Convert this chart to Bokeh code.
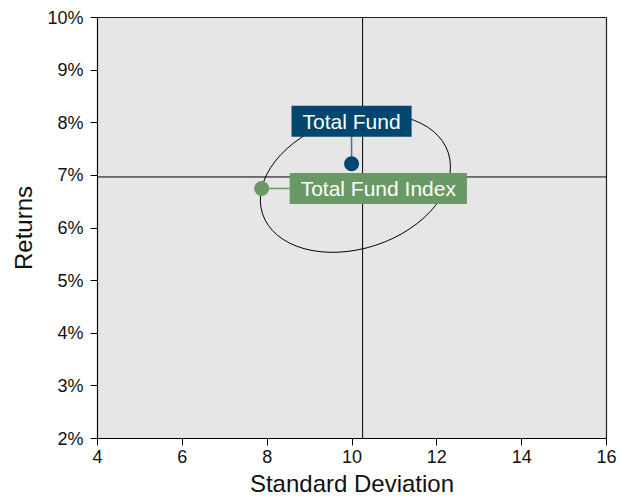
from bokeh.plotting import figure
from bokeh.models import Label, Span, FixedTicker, PrintfTickFormatter
from bokeh.embed import file_html
from bokeh.resources import INLINE
import math

# ---- data ----
names = ["Total Fund", "Total Fund Index"]
std_dev = [9.99, 7.87]
returns = [7.22, 6.75]
colors = ["#00466e", "#699a65"]
line_colors = ["#3d7499", "#699a65"]

median_std = 10.25
median_ret = 6.97

ell_cx = [10.08]
ell_cy = [6.85]
ell_w = [4.61]
ell_h = [2.48]
ell_angle_deg = 18.2

x_ticks = [4, 6, 8, 10, 12, 14, 16]
y_ticks = [2, 3, 4, 5, 6, 7, 8, 9, 10]

FONT = "Liberation Sans"

p = figure(width=630, height=500, x_range=(4, 16), y_range=(2, 10),
           output_backend="svg", toolbar_location=None,
           min_border_left=97, min_border_right=24, min_border_top=17,
           min_border_bottom=62)
p.background_fill_color = "#e6e6e6"
p.border_fill_color = "white"
p.outline_line_color = "#222222"
p.outline_line_width = 1.2
p.xgrid.visible = False
p.ygrid.visible = False

for ax in (p.xaxis[0], p.yaxis[0]):
    ax.major_label_text_font = FONT
    ax.major_label_text_font_size = "18px"
    ax.major_label_text_color = "#111111"
    ax.axis_label_text_font = FONT
    ax.axis_label_text_font_size = "24px"
    ax.axis_label_text_font_style = "normal"
    ax.axis_label_text_color = "#111111"
    ax.minor_tick_line_color = None
    ax.major_tick_in = 0
    ax.major_tick_out = 7
    ax.axis_line_color = "black"
    ax.major_tick_line_color = "black"

p.xaxis.ticker = FixedTicker(ticks=x_ticks)
p.yaxis.ticker = FixedTicker(ticks=y_ticks)
p.yaxis.formatter = PrintfTickFormatter(format="%d%%")
p.xaxis.axis_label = "Standard Deviation"
p.yaxis.axis_label = "Returns"
p.xaxis.major_label_standoff = 4
p.xaxis.axis_label_standoff = 4
p.yaxis.major_label_standoff = 7
p.yaxis.axis_label_standoff = 7

p.add_layout(Span(location=median_std, dimension="height", line_color="black", line_width=1))
p.add_layout(Span(location=median_ret, dimension="width", line_color="black", line_width=1))

p.ellipse(x=ell_cx, y=ell_cy, width=ell_w, height=ell_h,
          angle=math.radians(ell_angle_deg), fill_color=None,
          line_color="black", line_width=1)

# connectors
p.ray(x=[std_dev[0]], y=[returns[0]], length=28, length_units="screen",
      angle=math.pi / 2, line_color=line_colors[0], line_width=1.5)
p.ray(x=[std_dev[1]], y=[returns[1]], length=28, length_units="screen",
      angle=0, line_color=line_colors[1], line_width=1.5)

p.scatter(x=std_dev, y=returns, size=15, color=colors, line_color=None)

pad = dict(left=11, right=11, top=4, bottom=4)
p.add_layout(Label(x=std_dev[0], y=returns[0], text=names[0], y_offset=27,
                   text_align="center", text_baseline="bottom",
                   text_font=FONT, text_font_size="21px", text_color="white",
                   background_fill_color=colors[0], padding=pad))
p.add_layout(Label(x=std_dev[1], y=returns[1], text=names[1], x_offset=28,
                   text_align="left", text_baseline="middle",
                   text_font=FONT, text_font_size="21px", text_color="white",
                   background_fill_color=colors[1], padding=pad))

open("out.html", "w").write(file_html(p, INLINE))
